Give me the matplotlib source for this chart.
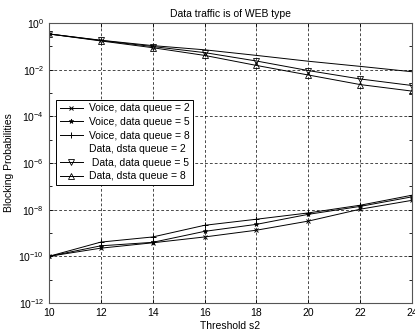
import matplotlib
matplotlib.use("Agg")
import matplotlib.pyplot as plt
from matplotlib.lines import Line2D
import numpy as np

threshold = [10, 12, 14, 16, 18, 20, 22, 24]

# log10 of blocking probabilities
voice_q2 = [-10.0, -9.65, -9.42, -9.17, -8.88, -8.49, -7.98, -7.60]
voice_q5 = [-10.0, -9.55, -9.40, -8.93, -8.63, -8.20, -7.86, -7.45]
voice_q8 = [-10.0, -9.39, -9.17, -8.67, -8.41, -8.14, -7.81, -7.38]
data_q2 = [-0.47, -0.74, -0.97, -1.15, -1.39, -1.64, -1.86, -2.09]
data_q5 = [-0.47, -0.75, -1.01, -1.27, -1.63, -2.04, -2.40, -2.68]
data_q8 = [-0.47, -0.77, -1.06, -1.39, -1.82, -2.23, -2.64, -2.92]

labels = ["Voice, data queue = 2", "Voice, data queue = 5", "Voice, data queue = 8",
          "Data, dsta queue = 2", " Data, data queue = 5", "Data, dsta queue = 8"]

plt.rcParams['font.family'] = ['Liberation Sans', 'DejaVu Sans']
plt.rcParams['mathtext.fontset'] = 'custom'
plt.rcParams['mathtext.rm'] = 'Liberation Sans'
plt.rcParams['mathtext.it'] = 'Liberation Sans'

fig = plt.figure(figsize=(4.15, 3.31), dpi=100)
ax = fig.add_axes([0.118, 0.0846, 0.875, 0.846])

p = lambda v: np.power(10.0, v)
lw = 0.7
h1, = ax.plot(threshold, p(voice_q2), color='k', lw=lw, marker='x', ms=3, mew=0.7)
h2, = ax.plot(threshold, p(voice_q5), color='k', lw=lw, marker='*', ms=3.5, mew=0.5)
h3, = ax.plot(threshold, p(voice_q8), color='k', lw=lw, marker='+', ms=5, mew=0.7)
h4, = ax.plot(threshold, p(data_q2), color='k', lw=lw)
h5, = ax.plot(threshold, p(data_q5), color='k', lw=lw, marker='v', ms=5, mfc='none', mew=0.6)
h6, = ax.plot(threshold, p(data_q8), color='k', lw=lw, marker='^', ms=5, mfc='none', mew=0.6)

ax.set_yscale('log')
ax.set_xlim(10, 24)
ax.set_ylim(1e-12, 1e0)
ax.set_xticks(threshold)
ax.set_xticklabels([str(t) for t in threshold])
ax.set_yticks([10.0**e for e in range(-12, 1, 2)])
ax.set_yticklabels([r'$10^{%d}$' % e for e in range(-12, 1, 2)])
ax.set_yticks([10.0**e for e in range(-11, 0, 2)], minor=True)
ax.yaxis.set_minor_formatter(matplotlib.ticker.NullFormatter())
ax.xaxis.set_minor_locator(matplotlib.ticker.NullLocator())
ax.tick_params(which='both', direction='in', top=True, right=True, labelsize=7.5,
               length=3, width=0.6)
ax.tick_params(which='minor', length=2)
ax.grid(True, which='major', color='k', ls=(0, (4, 3)), lw=0.5)
for s in ax.spines.values():
    s.set_linewidth(0.8)
    s.set_color('#555555')

ax.set_title("Data traffic is of WEB type", fontsize=7.5, pad=4)
ax.set_xlabel("Threshold s2", fontsize=7.5, labelpad=2)
ax.set_ylabel("Blocking Probabilities", fontsize=7.5, labelpad=3)

h4_leg = Line2D([], [], ls='none')
leg = ax.legend([h1, h2, h3, h4_leg, h5, h6], labels, loc='upper left',
                bbox_to_anchor=(0.005, 0.745), fontsize=7.5, frameon=True, fancybox=False,
                edgecolor='k', framealpha=1, handlelength=2.2, labelspacing=0.35,
                borderpad=0.35, handletextpad=0.6)
leg.get_frame().set_linewidth(0.7)

fig.savefig("out.png", dpi=100)
